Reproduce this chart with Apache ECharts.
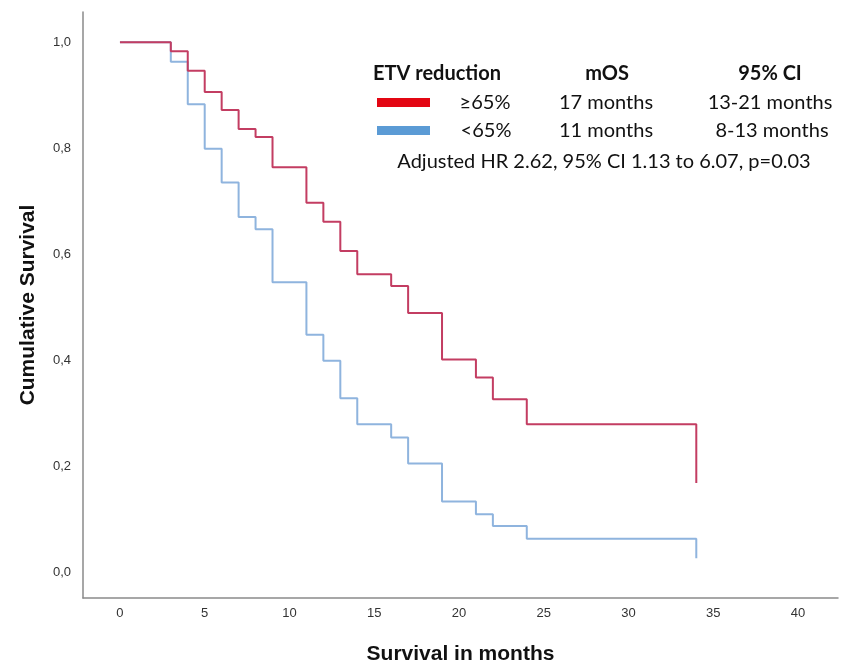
<!DOCTYPE html>
<html>
<head>
<meta charset="utf-8">
<script src="https://cdn.jsdelivr.net/npm/echarts@6/dist/echarts.min.js"></script>
<style>
  html, body { margin: 0; padding: 0; background: #fff; }
  #main { width: 849px; height: 666px; }
</style>
</head>
<body>
<div id="main"></div>
<script>
// time points (months) where the curves step
var months = [0, 3, 4, 5, 6, 7, 8, 9, 11, 12, 13, 14, 16, 17, 19, 21, 22, 24, 34];
// ETV reduction >=65%
var survHigh = [1.0, 0.983, 0.946, 0.906, 0.872, 0.836, 0.821, 0.764, 0.697, 0.661, 0.606, 0.562, 0.540, 0.489, 0.401, 0.367, 0.326, 0.279, 0.168];
// ETV reduction <65%
var survLow = [1.0, 0.963, 0.883, 0.799, 0.735, 0.670, 0.647, 0.547, 0.448, 0.399, 0.328, 0.279, 0.254, 0.205, 0.133, 0.109, 0.087, 0.063, 0.026];
var xTicks = [0, 5, 10, 15, 20, 25, 30, 35, 40];
var yTicks = [0, 0.2, 0.4, 0.6, 0.8, 1.0];

var chart = echarts.init(document.getElementById('main'));

function pairs(ys) {
  return months.map(function (m, i) { return [m, ys[i]]; });
}

function label(x, y, s, bold, align) {
  return {
    type: 'text', x: x, y: y,
    style: {
      text: s, fontFamily: 'Lato', fontSize: 20, fill: '#111',
      fontWeight: bold ? 'bold' : 'normal', textAlign: align || 'center', textVerticalAlign: 'middle'
    }
  };
}

var axisFont = 'Liberation Sans Narrow, Liberation Sans';

var option = {
  animation: false,
  backgroundColor: '#fff',
  grid: { left: 83, top: 12, right: 11, bottom: 68, outerBoundsMode: 'none', containLabel: false },
  xAxis: {
    type: 'value', min: -2.18, max: 42.36,
    name: 'Survival in months', nameLocation: 'middle', nameGap: 46,
    nameTextStyle: { fontFamily: axisFont, fontSize: 21, fontWeight: 'bold', color: '#111' },
    axisLine: { show: true, onZero: false, lineStyle: { color: '#8a8a8a', width: 1.5 } },
    axisTick: { show: false },
    splitLine: { show: false },
    axisLabel: {
      customValues: xTicks, margin: 9,
      fontFamily: axisFont, fontSize: 13, color: '#333'
    }
  },
  yAxis: {
    type: 'value', min: -0.049, max: 1.057,
    name: 'Cumulative Survival', nameLocation: 'middle', nameGap: 44,
    nameTextStyle: { fontFamily: axisFont, fontSize: 21, fontWeight: 'bold', color: '#111' },
    axisLine: { show: true, onZero: false, lineStyle: { color: '#8a8a8a', width: 1.5 } },
    axisTick: { show: false },
    splitLine: { show: false },
    axisLabel: {
      customValues: yTicks, margin: 12,
      fontFamily: axisFont, fontSize: 13, color: '#333',
      formatter: function (v) { return v.toFixed(1).replace('.', ','); }
    }
  },
  series: [
    {
      name: '<65%', type: 'line', step: 'end', symbol: 'none',
      data: pairs(survLow),
      lineStyle: { color: '#8fb4de', width: 2 }
    },
    {
      name: '≥65%', type: 'line', step: 'end', symbol: 'none',
      data: pairs(survHigh),
      lineStyle: { color: '#c33d62', width: 2 }
    }
  ],
  graphic: [
    label(373, 74, 'ETV reduction', true, 'left'),
    label(607, 74, 'mOS', true),
    label(770, 74, '95% CI', true),
    { type: 'rect', shape: { x: 377, y: 98, width: 53, height: 9 }, style: { fill: '#e30613' } },
    label(485, 103, '≥65%', false),
    label(606, 103, '17 months', false),
    label(770, 103, '13-21 months', false),
    { type: 'rect', shape: { x: 377, y: 126, width: 53, height: 9 }, style: { fill: '#5b9bd5' } },
    label(486, 131, '<65%', false),
    label(606, 131, '11 months', false),
    label(772, 131, '8-13 months', false),
    label(604, 162, 'Adjusted HR 2.62, 95% CI 1.13 to 6.07, p=0.03', false)
  ]
};

chart.setOption(option);
</script>
</body>
</html>
